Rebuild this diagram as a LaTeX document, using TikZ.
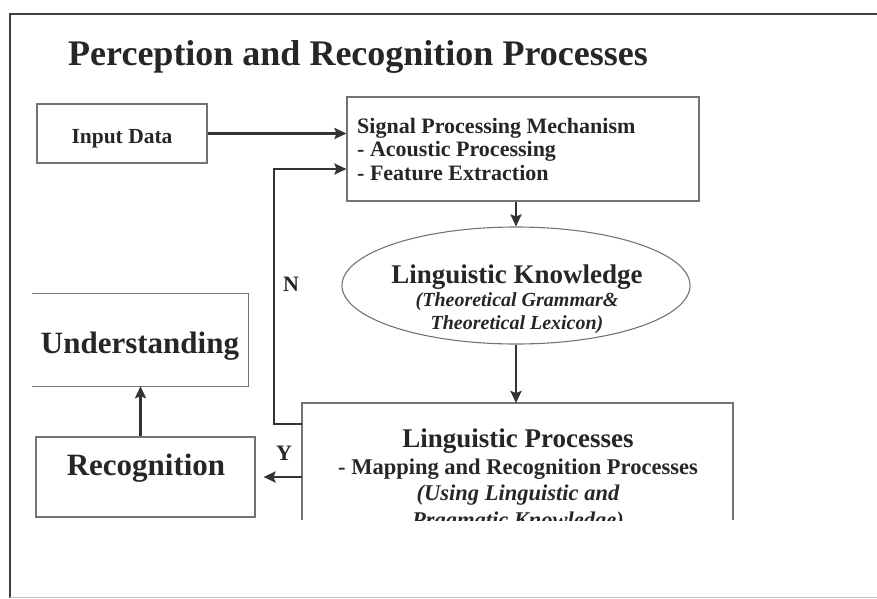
\documentclass[tikz,border=0pt]{standalone}
\usepackage{fontspec}
\setmainfont{Liberation Serif}
\usetikzlibrary{arrows.meta, shapes.geometric}

\begin{document}
\begin{tikzpicture}[x=1pt, y=-1pt,
  boxline/.style={draw=black!55, line width=1.1pt},
  conn/.style={draw=black!80, line width=2.4pt},
  arr/.style={conn, -{Stealth[length=12pt, width=11pt, inset=2pt]}},
  lbl/.style={inner sep=0pt, text=black!85}]
    \useasboundingbox (0,0) rectangle (877,598);
    \draw[black!75, line width=1.6pt] (10,598) -- (10,14) -- (877,14);
    \draw[black!25, line width=1pt] (10,597) -- (877,597);
    \node[lbl, anchor=base west, font=\bfseries\fontsize{36}{40}\selectfont] (title) at (68,65) {Perception and Recognition Processes};

    \node[boxline, minimum width=170pt, minimum height=59pt] (inp) at (122,133.5) {};
    \node[lbl, anchor=base, font=\bfseries\fontsize{21.5}{24}\selectfont] (inptxt) at (122,143) {Input Data};
    \node[boxline, minimum width=352pt, minimum height=104pt] (sig) at (523,149) {};
    \node[lbl, anchor=north west, align=left, font=\bfseries\fontsize{22}{23.5}\selectfont] (sigtxt) at (357,118) {Signal Processing Mechanism\\- Acoustic Processing\\- Feature Extraction};

    \node[boxline, ellipse, minimum width=348pt, minimum height=117pt, inner sep=0pt] (know) at (516,285.5) {};
    \node[lbl, anchor=north, align=center, font=\bfseries\itshape\fontsize{20}{23}\selectfont] (knowtxt) at (517,265) {{\upshape\fontsize{27}{28}\selectfont Linguistic Knowledge}\\(Theoretical Grammar\&\\Theoretical Lexicon)};

    \node[minimum width=216pt, minimum height=92pt, inner sep=0pt] (und) at (140.5,340) {};
    \draw[boxline] (und.north west) -- (und.north east) -- (und.south east) -- (und.south west);
    \node[lbl, anchor=base, font=\bfseries\fontsize{31}{36}\selectfont] (undtxt) at (140,353) {Understanding};
    \node[boxline, minimum width=219pt, minimum height=80pt] (rec) at (145.5,477) {};
    \node[lbl, anchor=base, font=\bfseries\fontsize{31}{36}\selectfont] (rectxt) at (146,475) {Recognition};

    \coordinate (lpsw) at (302,520);
    \coordinate (lpnw) at (302,403);
    \coordinate (lpne) at (733,403);
    \coordinate (lpse) at (733,520);
    \draw[boxline] (lpsw) -- (lpnw) -- (lpne) -- (lpse);
    \begin{scope}
      \clip (lpnw) rectangle (lpse);
      \node[lbl, anchor=north, align=center, font=\bfseries\fontsize{22.5}{26.5}\selectfont] (proc) at (518,429) {{\fontsize{27}{28}\selectfont Linguistic Processes}\\- Mapping and Recognition Processes\\{\itshape (Using Linguistic and}\\{\itshape Pragmatic Knowledge)}};
    \end{scope}

    \draw[arr] (inp.east) -- (inp.east -| sig.west);
    \coordinate (fbin) at (302,424);
    \coordinate (fbup) at (274,169);
    \draw[arr] (fbin) -| (fbup) -- (fbup -| sig.west);
    \node[lbl, font=\bfseries\fontsize{22}{24}\selectfont] (no) at (291,284) {N};
    \coordinate (yout) at (302,477);
    \draw[arr, shorten >=8pt] (yout) -- (rec.east);
    \node[lbl, font=\bfseries\fontsize{22}{24}\selectfont] (yes) at (284,453.5) {Y};
    \draw[arr] (know.north |- sig.south) -- (know.north);
    \draw[arr] (know.south) -- (know.south |- lpnw);
    \draw[arr] (und.south |- rec.north) -- (und.south);
\end{tikzpicture}
\end{document}
